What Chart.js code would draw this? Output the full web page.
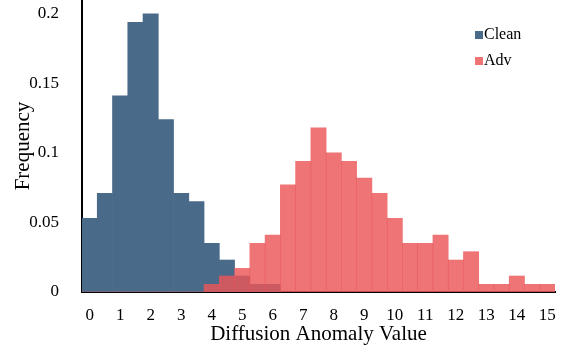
<!DOCTYPE html>
<html>
<head>
<meta charset="utf-8">
<script src="https://cdn.jsdelivr.net/npm/chart.js@4"></script>
<style>
  html, body { margin: 0; padding: 0; background: #fff; }
  #wrap { width: 565px; height: 354px; position: relative; }
</style>
</head>
<body>
<div id="wrap"><canvas id="myChart"></canvas></div>
<script>
// bin centres (width 0.5)
const bins = ['0','0.5','1','1.5','2','2.5','3','3.5','4','4.5','5','5.5','6','6.5','7','7.5',
              '8','8.5','9','9.5','10','10.5','11','11.5','12','12.5','13','13.5','14','14.5','15'];

const cleanFreq = [0.053, 0.071, 0.141, 0.194, 0.200, 0.124, 0.071, 0.065, 0.035, 0.023, 0.0115, 0.0055, 0.0055,
                   0, 0, 0, 0, 0, 0, 0, 0, 0, 0, 0, 0, 0, 0, 0, 0, 0, 0];

const advFreq = [0, 0, 0, 0, 0, 0, 0, 0, 0.0055, 0.0115, 0.017, 0.035, 0.041, 0.077, 0.094, 0.118,
                 0.100, 0.094, 0.082, 0.071, 0.053, 0.035, 0.035, 0.041, 0.023, 0.029, 0.0055, 0.0055,
                 0.0115, 0.0055, 0.0055];

const yTicks = [0, 0.05, 0.1, 0.15, 0.2];

const serif = "'Liberation Serif', 'Times New Roman', serif";

// legend drawn inside the plot, top right
const innerLegend = {
    id: 'innerLegend',
    afterDraw(chart) {
        const ctx = chart.ctx;
        const items = [chart.data.datasets[0], chart.data.datasets[1]];
        ctx.save();
        ctx.font = "16px " + serif;
        ctx.textBaseline = 'middle';
        items.forEach((ds, i) => {
            const y = 35 + i * 26;
            ctx.fillStyle = ds.backgroundColor;
            ctx.fillRect(475, y - 4, 8, 8);
            ctx.fillStyle = '#000';
            ctx.fillText(ds.label, 484, y);
        });
        ctx.restore();
    }
};

const ctx = document.getElementById("myChart").getContext("2d");
new Chart(ctx, {
    type: 'bar',
    data: {
        labels: bins,
        datasets: [
            { label: 'Clean', data: cleanFreq, backgroundColor: '#4a6a8a', order: 2 },
            { label: 'Adv', data: advFreq, backgroundColor: 'rgba(234,86,88,0.82)', order: 1 }
        ]
    },
    options: {
        responsive: true,
        maintainAspectRatio: false,
        animation: false,
        devicePixelRatio: 1,
        layout: { padding: { top: 0, right: 10, left: 0, bottom: 0 } },
        datasets: { bar: { grouped: false, barPercentage: 1, categoryPercentage: 1, borderWidth: 0 } },
        plugins: {
            legend: { display: false },
            tooltip: { enabled: false }
        },
        scales: {
            x: {
                grid: { display: false },
                border: { display: true, color: '#000', width: 2 },
                ticks: {
                    autoSkip: false,
                    maxRotation: 0,
                    padding: 5,
                    color: '#000',
                    font: { family: serif, size: 17 },
                    callback: function (v) {
                        const lab = this.getLabelForValue(v);
                        return Number(lab) % 1 === 0 ? lab : '';
                    }
                },
                title: {
                    display: true,
                    text: 'Diffusion Anomaly Value',
                    color: '#000',
                    font: { family: serif, size: 21 },
                    padding: { top: 0, bottom: 7 }
                },
                afterFit: s => { s.height = 62; s.paddingLeft = 0; s.paddingRight = 0; }
            },
            y: {
                min: 0,
                max: 0.21,
                grid: { display: false },
                border: { display: true, color: '#000', width: 2 },
                afterBuildTicks: s => { s.ticks = yTicks.map(v => ({ value: v })); },
                ticks: {
                    padding: 15,
                    color: '#000',
                    font: { family: serif, size: 17 },
                    callback: v => String(v)
                },
                title: {
                    display: true,
                    text: 'Frequency',
                    color: '#000',
                    font: { family: serif, size: 21 },
                    padding: { top: 11, bottom: 0 }
                },
                afterFit: s => { s.width = 82; s.paddingTop = 0; s.paddingBottom = 0; }
            }
        }
    },
    plugins: [innerLegend]
});
</script>
</body>
</html>
